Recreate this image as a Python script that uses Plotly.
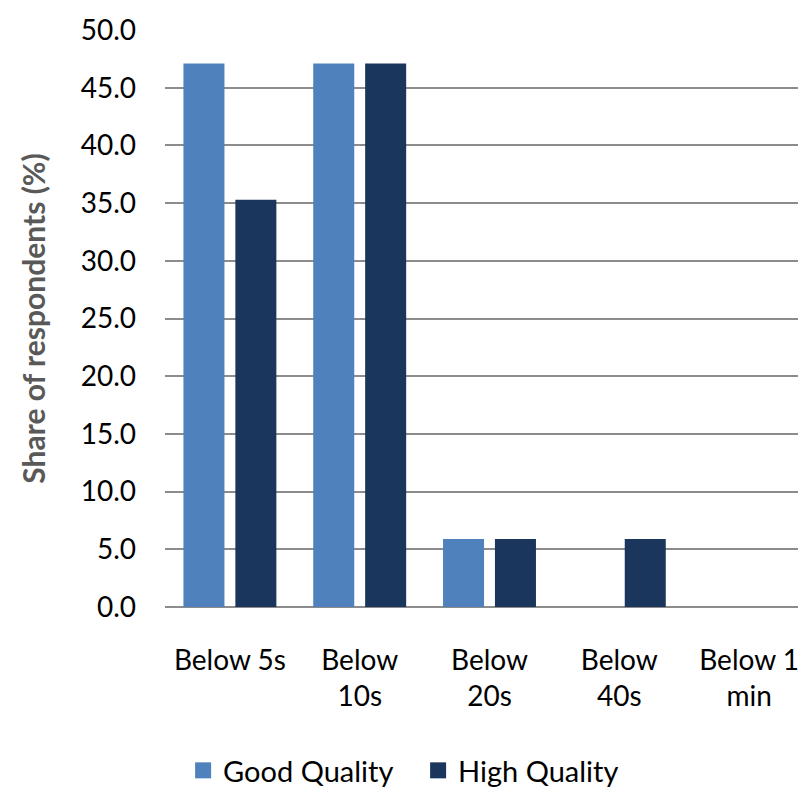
import plotly.graph_objects as go

categories = ["Below 5s", "Below 10s", "Below 20s", "Below 40s", "Below 1 min"]
tick_labels = ["Below 5s", "Below<br>10s", "Below<br>20s", "Below<br>40s", "Below 1<br>min"]
good_quality = [47.1, 47.1, 5.9, 0.0, 0.0]
high_quality = [35.3, 47.1, 5.9, 5.9, 0.0]
y_ticks = [0, 5, 10, 15, 20, 25, 30, 35, 40, 45, 50]
series_names = ["Good Quality", "High Quality"]
series_colors = ["#4F81BD", "#1B365D"]

FONT = "Lato, 'Open Sans', sans-serif"

fig = go.Figure()
for name, vals, col in zip(series_names, [good_quality, high_quality], series_colors):
    fig.add_trace(go.Bar(x=categories, y=vals, name=name, showlegend=False,
                         marker=dict(color=col, line=dict(width=0))))
# legend entries with larger square swatches
for name, col in zip(series_names, series_colors):
    fig.add_trace(go.Scatter(x=[None], y=[None], mode="markers", name=name,
                             marker=dict(symbol="square", size=17, color=col)))

fig.update_layout(
    width=806, height=788,
    margin=dict(l=157, r=0, t=22, b=181),
    paper_bgcolor="white", plot_bgcolor="white",
    barmode="group", bargap=0.2, bargroupgap=0.21,
    font=dict(family=FONT, size=28, color="black"),
    showlegend=True,
    legend=dict(orientation="h", x=0.39, xanchor="center", y=-0.284, yanchor="middle",
                font=dict(size=29, color="black"), itemwidth=30, traceorder="normal",
                entrywidth=190, entrywidthmode="pixels"),
    xaxis=dict(tickmode="array", tickvals=categories, ticktext=tick_labels,
               showgrid=False, showline=False, ticks="", ticklabelstandoff=34,
               tickfont=dict(size=28)),
    yaxis=dict(range=[0, 50], tickvals=y_ticks, tickformat=".1f",
               showgrid=True, gridcolor="#8C8C8C", gridwidth=1.5,
               zeroline=True, zerolinecolor="#8C8C8C", zerolinewidth=1.5,
               showline=False, ticks="", ticklabelstandoff=28,
               tickfont=dict(size=28),
               title=dict(text="<b>Share of respondents (%)</b>", font=dict(size=30, color="#595959"),
                          standoff=26)),
)

fig.write_html("out.html")
